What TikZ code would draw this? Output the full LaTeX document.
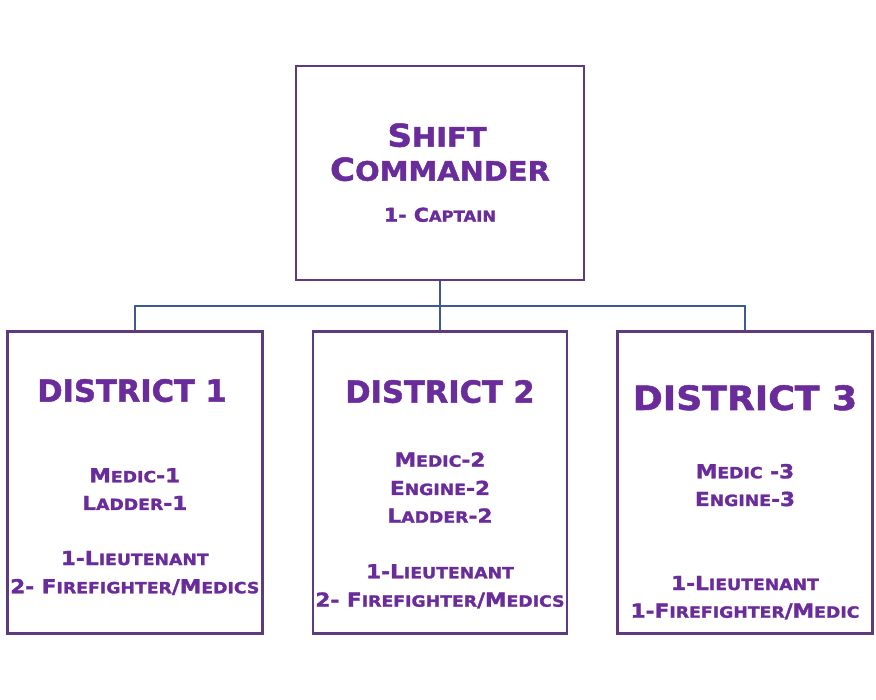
\documentclass[tikz,border=0pt]{standalone}
\usepackage{fontspec}
\usepackage{graphicx}
\newfontfamily\cpb{DejaVu Sans Bold}[FakeStretch=1.12,FakeBold=1.6]
\newfontfamily\cph{DejaVu Sans Bold}[FakeStretch=1.0,FakeBold=1.6]
\newfontfamily\cpw{DejaVu Sans Bold}[FakeStretch=1.08,FakeBold=1.6]
\definecolor{boxc}{RGB}{94,58,128}
\definecolor{txtc}{RGB}{106,44,154}
\definecolor{linec}{RGB}{62,90,150}
\newcommand\sm[1]{\scalebox{0.8}{#1}}
\newcommand\smt[1]{\scalebox{0.85}{#1}}
\begin{document}
\begin{tikzpicture}[x=1pt,y=-1pt,
  orgbox/.style={draw=boxc,line width=2.6pt,rectangle,inner sep=0pt,fill=white},
  lbl/.style={anchor=base,inner sep=0pt,text=txtc,font=\cpb\fontsize{19.3}{21}\selectfont},
  head/.style={anchor=base,inner sep=0pt,text=txtc,font=\cph\fontsize{30.5}{32}\selectfont},
  ttl/.style={anchor=base,inner sep=0pt,text=txtc,font=\cpw\fontsize{31.5}{33}\selectfont},
  conn/.style={draw=linec,line width=2.2pt}]
\useasboundingbox[fill=white] (0,0) rectangle (876,700);
% boxes
\node[orgbox,minimum width=288pt,minimum height=214pt] (top) at (440,173) {};
\node[orgbox,minimum width=255pt,minimum height=301.6pt] (d1) at (134.8,482.5) {};
\node[orgbox,minimum width=254pt,minimum height=301.6pt] (d2) at (440,482.5) {};
\node[orgbox,minimum width=255pt,minimum height=301.6pt] (d3) at (745,482.5) {};
% connectors
\coordinate (j) at (440,305.7);
\draw[conn] (top.south) -- (d2.north);
\draw[conn] (d1.north) |- (j) -| (d3.north);
% top text
\node[ttl] (t1) at (437,146.7) {S\smt{HIFT}};
\node[ttl] (t2) at (440,180.7) {C\smt{OMMANDER}};
\node[ttl,font=\cpw\fontsize{19}{21}\selectfont] (t3) at (440,221.7) {1- C\sm{APTAIN}};
% district 1
\node[head] (h1) at (132,401.7) {DISTRICT 1};
\node[lbl] (a1) at (134.8,482.3) {M\sm{EDIC}-1};
\node[lbl] (a2) at (134.8,510) {L\sm{ADDER}-1};
\node[lbl] (a3) at (134.8,565) {1-L\sm{IEUTENANT}};
\node[lbl] (a4) at (134.8,593.3) {2- F\sm{IREFIGHTER}/M\sm{EDICS}};
% district 2
\node[head] (h2) at (440,402.7) {DISTRICT 2};
\node[lbl] (b1) at (440,466.7) {M\sm{EDIC}-2};
\node[lbl] (b2) at (440,495) {E\sm{NGINE}-2};
\node[lbl] (b3) at (440,522.7) {L\sm{ADDER}-2};
\node[lbl] (b4) at (440,578.3) {1-L\sm{IEUTENANT}};
\node[lbl] (b5) at (440,606.7) {2- F\sm{IREFIGHTER}/M\sm{EDICS}};
% district 3
\node[head,font=\cpw\fontsize{33.5}{35}\selectfont] (h3) at (745,410) {DISTRICT 3};
\node[lbl] (c1) at (745,478.3) {M\sm{EDIC} -3};
\node[lbl] (c2) at (745,506) {E\sm{NGINE}-3};
\node[lbl] (c3) at (745,590) {1-L\sm{IEUTENANT}};
\node[lbl] (c4) at (745,617.7) {1-F\sm{IREFIGHTER}/M\sm{EDIC}};
\end{tikzpicture}
\end{document}
